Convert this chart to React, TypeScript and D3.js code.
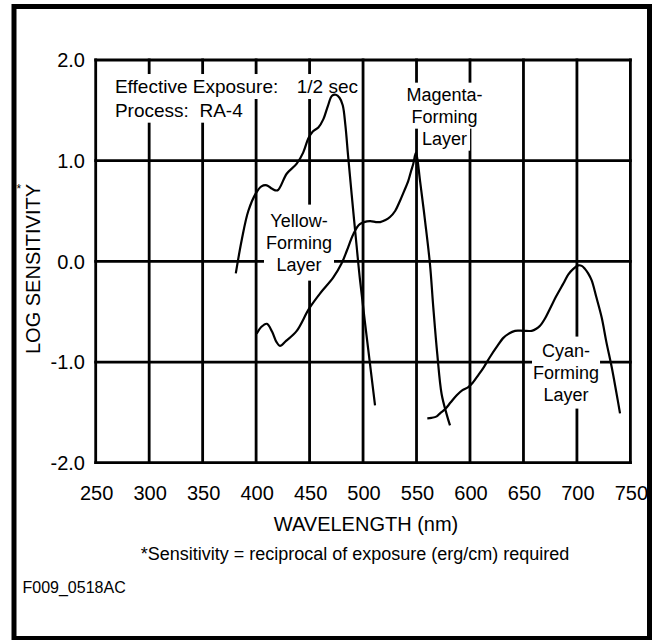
import React, { useEffect, useRef } from 'react';
import * as d3 from 'd3';

// ---- data ----
const xTicks = [250, 300, 350, 400, 450, 500, 550, 600, 650, 700, 750];
const yTicks = [2, 1, 0, -1, -2];
const yTickLabels = ['2.0', '1.0', '0.0', '-1.0', '-2.0'];

const yellowNm = [381, 386.5, 392.7, 400, 405, 410, 415, 420, 428.6, 438, 444, 448.8, 453, 458.2, 462.8, 467, 471, 474.5, 478, 481, 483.5, 486, 489.4, 494.1, 497.2, 504.9, 511.2];
const yellowLog = [-0.12, 0.21, 0.5, 0.68, 0.745, 0.755, 0.72, 0.705, 0.87, 0.97, 1.08, 1.22, 1.29, 1.33, 1.41, 1.54, 1.645, 1.655, 1.625, 1.55, 1.35, 1.05, 0.66, 0.14, -0.19, -0.88, -1.43];

const magentaNm = [400.5, 405, 410, 415, 419, 422.3, 428, 438, 449.5, 459.7, 472.2, 480, 485, 490.9, 497, 506.5, 512, 516, 521, 525.2, 530, 534.5, 538.5, 542.3, 545, 547, 549.5, 553.3, 558, 562.6, 565.7, 569.4, 573.5, 578.2, 581.3];
const magentaLog = [-0.72, -0.65, -0.62, -0.7, -0.8, -0.84, -0.79, -0.69, -0.47, -0.32, -0.16, -0.02, 0.11, 0.27, 0.37, 0.4, 0.39, 0.39, 0.41, 0.44, 0.5, 0.6, 0.7, 0.8, 0.9, 0.97, 1.08, 0.8, 0.4, -0.03, -0.46, -0.92, -1.32, -1.52, -1.63];

const cyanNm = [560.1, 564, 568.9, 572, 576.6, 582, 587.6, 593, 598.4, 603, 607.8, 613, 618.7, 625, 631.2, 636, 642.1, 650, 657.7, 662, 665.5, 670, 674.8, 681, 687.3, 692, 696.6, 701.3, 704.5, 707.5, 710.5, 713.8, 718, 723.2, 727.5, 732.5, 736.5, 740.3];
const cyanLog = [-1.56, -1.555, -1.54, -1.51, -1.47, -1.4, -1.33, -1.28, -1.25, -1.2, -1.13, -1.05, -0.95, -0.85, -0.76, -0.72, -0.69, -0.69, -0.69, -0.67, -0.64, -0.57, -0.47, -0.34, -0.22, -0.13, -0.075, -0.04, -0.045, -0.075, -0.12, -0.19, -0.35, -0.56, -0.8, -1.05, -1.28, -1.51];

const yellowLabel = ['Yellow-', 'Forming', 'Layer'];
const magentaLabel = ['Magenta-', 'Forming', 'Layer'];
const cyanLabel = ['Cyan-', 'Forming', 'Layer'];

const xTitle = 'WAVELENGTH (nm)';
const yTitle = 'LOG SENSITIVITY';
const footnote = '*Sensitivity = reciprocal of exposure (erg/cm) required';
const figureId = 'F009_0518AC';

const FONT = '"Liberation Sans", Arial, Helvetica, sans-serif';
const W = 657;
const H = 640;

export default function App() {
  const ref = useRef<SVGSVGElement>(null);

  useEffect(() => {
    const svg = d3.select(ref.current);
    svg.selectAll('*').remove();

    const x = d3.scaleLinear().domain([250, 750]).range([95.7, 630.4]);
    const y = d3.scaleLinear().domain([-2, 2]).range([462.7, 60]);

    svg.append('rect').attr('x', 0).attr('y', 0).attr('width', W).attr('height', H).attr('fill', '#fff');

    // outer border
    svg.append('rect')
      .attr('x', 14).attr('y', 6.5).attr('width', 635.5).attr('height', 632)
      .attr('fill', 'none').attr('stroke', '#000').attr('stroke-width', 5);

    // grid
    const grid = svg.append('g').attr('stroke', '#000').attr('stroke-width', 2.8).attr('stroke-linecap', 'square');
    xTicks.forEach((t) => {
      grid.append('line').attr('x1', x(t)).attr('x2', x(t)).attr('y1', y(2)).attr('y2', y(-2));
    });
    yTicks.forEach((t) => {
      grid.append('line').attr('x1', x(250)).attr('x2', x(750)).attr('y1', y(t)).attr('y2', y(t));
    });

    // text with white knock-out boxes
    const boxLayer = svg.append('g');
    const textLayer = svg.append('g').attr('font-family', FONT).attr('fill', '#000');

    function addText(str: string, px: number, py: number, size: number, anchor: string) {
      return textLayer.append('text')
        .attr('x', px).attr('y', py)
        .attr('font-size', size)
        .attr('text-anchor', anchor)
        .text(str);
    }

    function lineBox(node: any, padX: number, padY: number) {
      const b = (node.node() as SVGTextElement).getBBox();
      boxLayer.append('rect')
        .attr('x', b.x - padX).attr('y', b.y - padY)
        .attr('width', b.width + 2 * padX).attr('height', b.height + 2 * padY)
        .attr('fill', '#fff');
    }

    function blockLabel(lines: string[], cx: number, firstBaseline: number, padX: number, padY: number, perLine: boolean) {
      const nodes = lines.map((l, i) => addText(l, cx, firstBaseline + i * 22, 18, 'middle'));
      if (perLine) {
        nodes.forEach((n) => lineBox(n, padX, padY));
      } else {
        const bs = nodes.map((n) => (n.node() as SVGTextElement).getBBox());
        const x0 = d3.min(bs, (b) => b.x)! - padX;
        const x1 = d3.max(bs, (b) => b.x + b.width)! + padX;
        const y0 = d3.min(bs, (b) => b.y)! - padY;
        const y1 = d3.max(bs, (b) => b.y + b.height)! + padY;
        boxLayer.append('rect').attr('x', x0).attr('y', y0).attr('width', x1 - x0).attr('height', y1 - y0).attr('fill', '#fff');
      }
    }

    // notes
    const n1 = addText('Effective Exposure:', x(268), y(1.672), 19, 'start');
    const n2 = addText('1/2 sec', x(438), y(1.672), 19, 'start');
    const n3 = addText('Process:', x(268), y(1.437), 19, 'start');
    const n4 = addText('RA-4', x(347), y(1.437), 19, 'start');
    [n1, n2, n3, n4].forEach((n) => lineBox(n, 3, 2));

    blockLabel(yellowLabel, x(440.1), y(0.345), 2, 6, false);
    blockLabel(magentaLabel, x(576.2), y(1.596), 3, 2, true);
    blockLabel(cyanLabel, x(689.8), y(-0.946), 1, 4, false);

    // curves
    const line = d3.line<[number, number]>()
      .x((d) => x(d[0]))
      .y((d) => y(d[1]))
      .curve(d3.curveCatmullRom.alpha(0.5));
    const series: [number[], number[]][] = [
      [yellowNm, yellowLog],
      [magentaNm, magentaLog],
      [cyanNm, cyanLog],
    ];
    series.forEach(([xs, ys]) => {
      const pts = xs.map((v, i) => [v, ys[i]] as [number, number]);
      svg.append('path').attr('d', line(pts)!)
        .attr('fill', 'none').attr('stroke', '#000').attr('stroke-width', 2.2)
        .attr('stroke-linejoin', 'round').attr('stroke-linecap', 'butt');
    });

    // axes labels
    const labels = svg.append('g').attr('font-family', FONT).attr('fill', '#000');
    yTicks.forEach((t, i) => {
      labels.append('text').attr('x', 85).attr('y', y(t) + 7.2)
        .attr('font-size', 20).attr('text-anchor', 'end').text(yTickLabels[i]);
    });
    xTicks.forEach((t) => {
      labels.append('text').attr('x', x(t) + 1).attr('y', 500)
        .attr('font-size', 20).attr('text-anchor', 'middle').text(String(t));
    });
    labels.append('text').attr('x', (x(250) + x(750)) / 2 + 3).attr('y', 531)
      .attr('font-size', 20).attr('text-anchor', 'middle').text(xTitle);
    labels.append('text').attr('transform', 'translate(39.5,269) rotate(-90)')
      .attr('font-size', 20).attr('text-anchor', 'middle').text(yTitle);
    labels.append('text').attr('x', 16.5).attr('y', 192.5).attr('font-size', 12).text('*');
    labels.append('text').attr('x', 355).attr('y', 560)
      .attr('font-size', 18).attr('text-anchor', 'middle').text(footnote);
    labels.append('text').attr('x', 22.5).attr('y', 593.3)
      .attr('font-size', 16).attr('text-anchor', 'start').text(figureId);
  }, []);

  return (
    <svg
      ref={ref}
      width={W}
      height={H}
      style={{ position: 'absolute', left: 0, top: 0, display: 'block', background: '#fff' }}
    />
  );
}
